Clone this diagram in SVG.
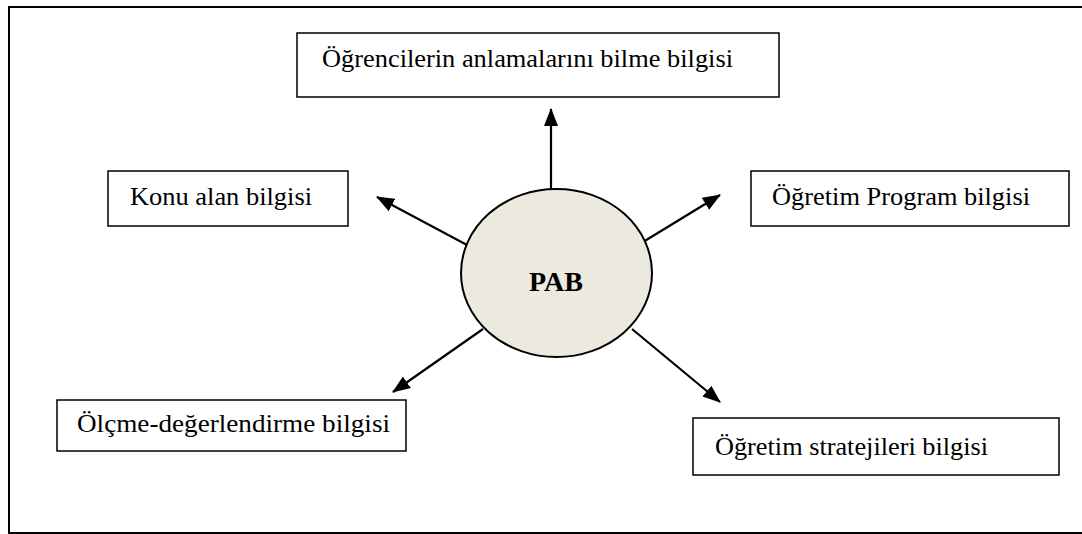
<svg xmlns="http://www.w3.org/2000/svg" width="1082" height="534" viewBox="0 0 1082 534">
  <defs>
    <style>
      .box { fill: #ffffff; stroke: #000000; stroke-width: 1.5; }
      .label { font-family: "Liberation Serif", "Times New Roman", serif; font-size: 26px; fill: #000000; }
      .hub { fill: #ECEADF; stroke: #000000; stroke-width: 2; }
      .hub-label { font-family: "Liberation Serif", "Times New Roman", serif; font-size: 28px; font-weight: bold; fill: #000000; }
      .link { stroke: #000000; stroke-width: 2.2; fill: none; marker-end: url(#head); }
    </style>
    <marker id="head" viewBox="0 0 18 14" refX="17" refY="7" markerWidth="18" markerHeight="14" markerUnits="userSpaceOnUse" orient="auto">
      <path d="M0,0 L18,7 L0,14 z" fill="#000000"/>
    </marker>
  </defs>

  <!-- outer frame -->
  <rect x="9" y="7" width="1085" height="526" fill="#ffffff" stroke="#000000" stroke-width="2"/>

  <!-- connectors -->
  <g id="connectors">
    <line class="link" x1="551" y1="190" x2="551" y2="109"/>
    <line class="link" x1="467" y1="245" x2="377" y2="197"/>
    <line class="link" x1="643" y1="242" x2="720" y2="195"/>
    <line class="link" x1="483" y1="329" x2="393" y2="392"/>
    <line class="link" x1="632" y1="329" x2="720" y2="402"/>
  </g>

  <!-- centre -->
  <g id="pab">
    <ellipse class="hub" cx="556.5" cy="273" rx="95.5" ry="84"/>
    <text class="hub-label" x="556" y="291" text-anchor="middle">PAB</text>
  </g>

  <g id="ogrenci">
    <rect class="box" x="297" y="33" width="482" height="64"/>
    <text class="label" x="322" y="67" textLength="411" lengthAdjust="spacingAndGlyphs">Öğrencilerin anlamalarını bilme bilgisi</text>
  </g>

  <g id="konu">
    <rect class="box" x="108" y="171" width="240" height="55"/>
    <text class="label" x="130" y="205" textLength="182" lengthAdjust="spacingAndGlyphs">Konu alan bilgisi</text>
  </g>

  <g id="program">
    <rect class="box" x="751" y="171" width="318" height="55"/>
    <text class="label" x="772" y="205" textLength="258" lengthAdjust="spacingAndGlyphs">Öğretim Program bilgisi</text>
  </g>

  <g id="olcme">
    <rect class="box" x="57" y="400" width="349" height="51"/>
    <text class="label" x="77" y="432" textLength="313" lengthAdjust="spacingAndGlyphs">Ölçme-değerlendirme bilgisi</text>
  </g>

  <g id="strateji">
    <rect class="box" x="693" y="418" width="366" height="57"/>
    <text class="label" x="715" y="455" textLength="273" lengthAdjust="spacingAndGlyphs">Öğretim stratejileri bilgisi</text>
  </g>
</svg>
